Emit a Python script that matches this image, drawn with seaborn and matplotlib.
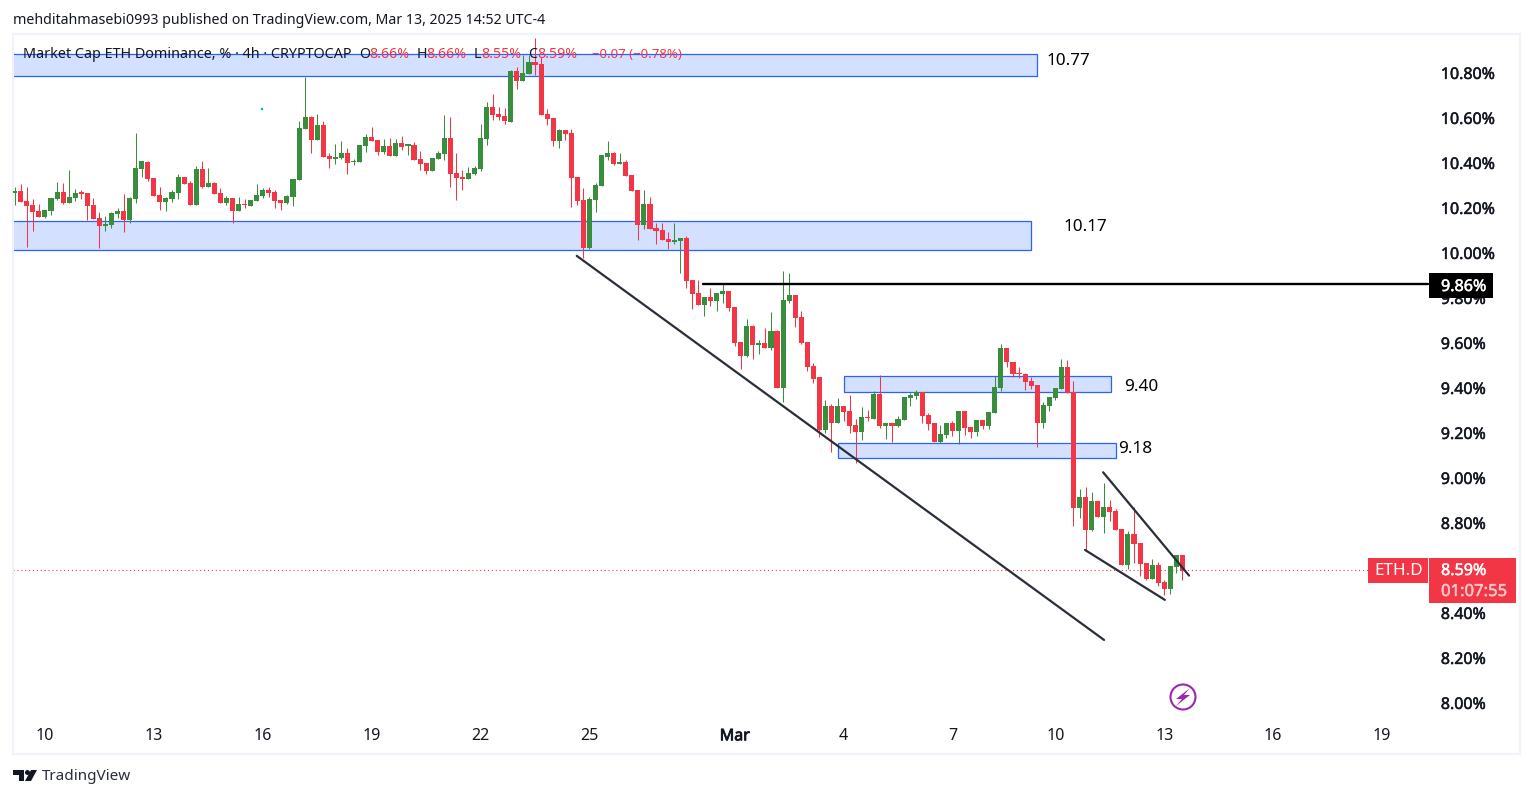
import numpy as np
import pandas as pd
import seaborn as sns
import matplotlib.pyplot as plt
import matplotlib.patheffects as pe
from matplotlib.patches import Rectangle, Circle, Polygon
from matplotlib.transforms import Affine2D

opens = [10.268,10.275,10.231,10.213,10.187,10.161,10.188,10.240,10.271,10.224,
         10.246,10.268,10.267,10.213,10.155,10.121,10.126,10.173,10.187,10.147,
         10.241,10.375,10.404,10.333,10.258,10.227,10.240,10.268,10.338,10.311,
         10.213,10.373,10.293,10.311,10.267,10.222,10.244,10.187,10.218,10.209,
         10.231,10.253,10.280,10.271,10.235,10.222,10.249,10.324,10.551,10.604,
         10.502,10.569,10.431,10.418,10.421,10.444,10.404,10.404,10.475,10.515,
         10.502,10.449,10.475,10.431,10.489,10.477,10.480,10.418,10.400,10.364,
         10.418,10.440,10.511,10.355,10.338,10.329,10.351,10.373,10.507,10.649,
         10.618,10.609,10.582,10.809,10.764,10.795,10.849,10.840,10.618,10.600,
         10.498,10.547,10.533,10.338,10.235,10.022,10.236,10.298,10.427,10.445,
         10.396,10.405,10.347,10.280,10.125,10.218,10.111,10.103,10.063,10.049,
         10.054,10.067,9.880,9.823,9.769,9.805,9.787,9.818,9.831,9.760,
         9.605,9.543,9.676,9.591,9.600,9.578,9.654,9.400,9.787,9.814,
         9.716,9.605,9.498,9.449,9.213,9.320,9.244,9.320,9.297,9.235,
         9.204,9.271,9.262,9.373,9.231,9.244,9.231,9.257,9.355,9.364,
         9.382,9.280,9.244,9.160,9.191,9.244,9.209,9.297,9.226,9.204,
         9.257,9.231,9.289,9.400,9.577,9.515,9.466,9.462,9.431,9.413,
         9.244,9.320,9.355,9.395,9.493,9.382,8.867,8.916,8.769,8.898,
         8.827,8.871,8.853,8.773,8.613,8.751,8.711,8.622,8.551,8.613,
         8.538,8.507,8.605,8.658]
highs = [10.295,10.307,10.293,10.240,10.218,10.191,10.244,10.315,10.311,10.369,
         10.284,10.280,10.267,10.244,10.182,10.164,10.182,10.200,10.262,10.249,
         10.533,10.409,10.409,10.333,10.293,10.249,10.280,10.351,10.338,10.320,
         10.387,10.409,10.378,10.315,10.289,10.253,10.244,10.249,10.240,10.235,
         10.307,10.289,10.293,10.280,10.235,10.258,10.329,10.587,10.782,10.609,
         10.618,10.587,10.444,10.484,10.498,10.467,10.418,10.480,10.529,10.560,
         10.502,10.507,10.511,10.507,10.520,10.480,10.493,10.453,10.400,10.422,
         10.453,10.613,10.604,10.444,10.369,10.382,10.387,10.573,10.671,10.707,
         10.649,10.644,10.813,10.827,10.880,10.880,10.955,10.871,10.640,10.600,
         10.551,10.547,10.551,10.338,10.289,10.249,10.311,10.436,10.498,10.449,
         10.445,10.414,10.347,10.280,10.280,10.249,10.134,10.134,10.094,10.134,
         10.067,10.076,9.880,9.880,9.805,9.845,9.823,9.863,9.831,9.760,
         9.605,9.707,9.680,9.614,9.667,9.738,9.658,9.920,9.911,9.814,
         9.743,9.605,9.511,9.449,9.346,9.329,9.355,9.320,9.369,9.262,
         9.315,9.302,9.386,9.457,9.244,9.244,9.275,9.360,9.377,9.391,
         9.382,9.289,9.244,9.235,9.244,9.253,9.297,9.297,9.226,9.257,
         9.257,9.293,9.453,9.595,9.577,9.515,9.493,9.466,9.449,9.413,
         9.337,9.360,9.400,9.529,9.524,9.431,8.951,8.960,8.938,8.898,
         8.978,8.902,8.862,8.773,8.765,8.871,8.711,8.622,8.640,8.627,
         8.547,8.609,8.658,8.658]
lows = [10.215,10.228,10.028,10.099,10.161,10.155,10.170,10.235,10.218,10.224,
        10.232,10.241,10.147,10.152,10.024,10.099,10.111,10.155,10.095,10.135,
        10.221,10.338,10.321,10.255,10.191,10.187,10.227,10.240,10.308,10.213,
        10.213,10.289,10.293,10.262,10.222,10.213,10.133,10.187,10.200,10.209,
        10.231,10.244,10.249,10.200,10.191,10.218,10.209,10.324,10.551,10.444,
        10.502,10.427,10.378,10.395,10.418,10.351,10.391,10.404,10.449,10.498,
        10.435,10.440,10.431,10.431,10.458,10.435,10.413,10.369,10.351,10.364,
        10.418,10.413,10.293,10.235,10.280,10.329,10.347,10.364,10.480,10.591,
        10.591,10.573,10.582,10.729,10.764,10.795,10.791,10.613,10.569,10.475,
        10.467,10.502,10.204,10.213,9.978,10.018,10.183,10.298,10.414,10.391,
        10.396,10.343,10.276,10.058,10.107,10.107,10.040,10.058,10.018,10.040,
        9.911,9.845,9.751,9.769,9.720,9.765,9.743,9.778,9.743,9.587,
        9.485,9.538,9.529,9.551,9.578,9.569,9.400,9.338,9.778,9.671,
        9.596,9.476,9.423,9.182,9.200,9.115,9.244,9.253,9.200,9.066,
        9.169,9.253,9.262,9.222,9.173,9.160,9.226,9.257,9.320,9.351,
        9.244,9.213,9.160,9.155,9.177,9.186,9.151,9.191,9.177,9.186,
        9.217,9.217,9.289,9.386,9.493,9.449,9.444,9.391,9.395,9.137,
        9.222,9.297,9.346,9.395,9.377,8.787,8.822,8.680,8.765,8.827,
        8.756,8.809,8.769,8.613,8.596,8.622,8.565,8.547,8.551,8.520,
        8.480,8.485,8.578,8.547]
closes = [10.277,10.228,10.210,10.184,10.161,10.191,10.244,10.271,10.224,10.249,
          10.267,10.264,10.210,10.152,10.121,10.129,10.178,10.187,10.147,10.244,
          10.378,10.409,10.330,10.255,10.227,10.244,10.271,10.338,10.308,10.213,
          10.373,10.293,10.311,10.262,10.222,10.244,10.187,10.218,10.213,10.235,
          10.258,10.280,10.267,10.231,10.222,10.253,10.329,10.555,10.604,10.502,
          10.569,10.427,10.418,10.427,10.444,10.400,10.409,10.480,10.515,10.498,
          10.449,10.475,10.431,10.489,10.471,10.480,10.413,10.395,10.364,10.422,
          10.444,10.511,10.351,10.333,10.329,10.355,10.378,10.511,10.649,10.613,
          10.604,10.587,10.809,10.764,10.800,10.849,10.835,10.613,10.595,10.498,
          10.547,10.529,10.333,10.231,10.022,10.240,10.303,10.436,10.445,10.396,
          10.405,10.343,10.276,10.125,10.218,10.107,10.098,10.058,10.049,10.058,
          10.067,9.876,9.818,9.769,9.805,9.787,9.823,9.831,9.756,9.600,
          9.543,9.676,9.591,9.600,9.578,9.654,9.400,9.791,9.814,9.711,
          9.600,9.494,9.440,9.213,9.320,9.244,9.320,9.293,9.231,9.204,
          9.271,9.268,9.373,9.231,9.244,9.231,9.262,9.360,9.369,9.382,
          9.275,9.240,9.160,9.195,9.244,9.209,9.297,9.222,9.204,9.257,
          9.231,9.293,9.404,9.577,9.515,9.462,9.462,9.426,9.409,9.244,
          9.324,9.360,9.400,9.493,9.377,8.867,8.916,8.769,8.898,8.827,
          8.871,8.849,8.769,8.613,8.751,8.707,8.618,8.551,8.613,8.533,
          8.507,8.609,8.658,8.587]

day_bars = [5, 23, 41, 59, 77, 95, 119, 137, 155, 172, 190, 208, 226]
day_labels = ['10', '13', '16', '19', '22', '25', 'Mar', '4', '7', '10', '13', '16', '19']
price_ticks = [8.0, 8.2, 8.4, 8.8, 9.0, 9.2, 9.4, 9.6, 9.8, 10.0, 10.2, 10.4, 10.6, 10.8]

# zones: bar from, bar to, price low, price high
zone_from = [-5, -5, 137, 136]
zone_to = [169, 168, 181.2, 182.1]
zone_low = [10.787, 10.013, 9.381, 9.088]
zone_high = [10.882, 10.14, 9.452, 9.154]

level_price = 9.86
last_price = 8.59

GREEN = '#388e3c'
RED = '#f23645'
BLUE = '#2962ff'
INK = '#131722'
LINE = '#2a2e39'

sns.set_theme(style='white')
plt.rcParams['font.family'] = ['Noto Sans', 'DejaVu Sans']

df = pd.DataFrame({'open': opens, 'high': highs, 'low': lows, 'close': closes})
df['bar'] = np.arange(len(df))
df['bottom'] = df[['open', 'close']].min(axis=1)
df['body'] = (df['close'] - df['open']).abs().clip(lower=0.005)
up = df[df['close'] >= df['open']]
down = df[df['close'] < df['open']]

W, H = 1533, 798
fig = plt.figure(figsize=(W / 100, H / 100), dpi=100)
ax = fig.add_axes([13 / W, 1 - 754 / H, (1520 - 13) / W, (754 - 34) / H])

# everything that isn't data gets placed in pixels of the picture
px = Affine2D().scale(1, -1).translate(0, H)
heavy = [pe.withStroke(linewidth=0.35, foreground=INK)]
heavy_white = [pe.withStroke(linewidth=0.35, foreground='white')]

for a, b, lo, hi in zip(zone_from, zone_to, zone_low, zone_high):
    ax.add_patch(Rectangle((a, lo), b - a, hi - lo, fc='#d4e0ff', ec=BLUE, lw=0.9, zorder=1))

ax.vlines(up['bar'], up['low'], up['high'], color=GREEN, lw=0.75, zorder=2)
ax.vlines(down['bar'], down['low'], down['high'], color=RED, lw=0.75, zorder=2)
sns.barplot(x=up['bar'], y=up['body'], bottom=up['bottom'], native_scale=True, color=GREEN,
            saturation=1, errorbar=None, width=0.84, ax=ax, zorder=3, linewidth=0)
sns.barplot(x=down['bar'], y=down['body'], bottom=down['bottom'], native_scale=True, color=RED,
            saturation=1, errorbar=None, width=0.84, ax=ax, zorder=3, linewidth=0)

ax.set_xlim(-0.28, 248.8)
ax.set_ylim(7.773, 10.973)
ax.set_xlabel('')
ax.set_ylabel('')

ax.plot([92.9, 180.05], [9.987, 8.28], color=LINE, lw=1.6, zorder=4)
ax.plot([179.9, 194.1], [9.025, 8.566], color=LINE, lw=1.6, zorder=4)
ax.plot([176.9, 190.1], [8.68, 8.458], color=LINE, lw=1.6, zorder=4)
ax.plot([113.8, 233.6], [level_price, level_price], color='black', lw=1.7, zorder=4)
ax.plot([-0.28, 225.0], [last_price, last_price], color=RED, lw=0.8, ls=(0, (1, 2.5)), zorder=1.5)

ax.set_xticks(day_bars, day_labels)
ax.set_yticks(price_ticks, [f'{v:.2f}%' for v in price_ticks])
ax.yaxis.tick_right()
ax.tick_params(axis='y', length=0, pad=-57, labelsize=11.5, labelcolor=INK)
ax.tick_params(axis='x', length=0, pad=-18.5, labelsize=11.5, labelcolor=INK)
for t in ax.get_yticklabels():
    t.set_path_effects(heavy)
ax.get_xticklabels()[6].set_path_effects([pe.withStroke(linewidth=0.6, foreground=INK)])
for s in ax.spines.values():
    s.set_color('#f0f3fa')
    s.set_linewidth(1.5)

ax.text(1046, 61, '10.77', transform=px, fontsize=12.3, color='black', va='center', zorder=6)
ax.text(1063, 227, '10.17', transform=px, fontsize=12.3, color='black', va='center', zorder=6)
ax.text(1124, 387, '9.40', transform=px, fontsize=12.3, color='black', va='center', zorder=6)
ax.text(1118, 449, '9.18', transform=px, fontsize=12.3, color='black', va='center', zorder=6)

# price labels on the scale
ax.add_patch(Rectangle((1429, 273), 64, 25, transform=px, fc='black', ec='none', zorder=7, clip_on=False))
ax.text(1441, 287, '9.86%', transform=px, fontsize=11.6, color='white', va='center', zorder=8,
        path_effects=heavy_white)
ax.add_patch(Rectangle((1368, 558), 60, 25, transform=px, fc=RED, ec='none', zorder=7, clip_on=False))
ax.text(1374, 571, 'ETH.D', transform=px, fontsize=12.3, color='white', va='center', zorder=8)
ax.add_patch(Rectangle((1429, 558), 87, 45, transform=px, fc=RED, ec='none', zorder=7, clip_on=False))
ax.text(1441, 571, '8.59%', transform=px, fontsize=11.6, color='white', va='center', zorder=8,
        path_effects=heavy_white)
ax.text(1441, 592, '01:07:55', transform=px, fontsize=12, color='#fcc8cd', va='center', zorder=8,
        path_effects=[pe.withStroke(linewidth=0.35, foreground='#fcc8cd')])

# legend row
ax.text(23, 55, 'Market Cap ETH Dominance, % · 4h · CRYPTOCAP', transform=px, fontsize=10.35,
        color=INK, va='center', zorder=6)
for x, t, c in [(359, 'O', INK), (369, '8.66%', RED), (417, 'H', INK), (426, '8.66%', RED),
                (474, 'L', INK), (481, '8.55%', RED), (528, 'C', INK), (537, '8.59%', RED)]:
    ax.text(x, 55, t, transform=px, fontsize=10.2, color=c, va='center', zorder=6)
ax.text(592, 55, '−0.07 (−0.78%)', transform=px, fontsize=9.5, color=RED, va='center', zorder=6)

ax.add_patch(Circle((262, 109), 1.3, transform=px, fc='#00bcd4', ec='none', zorder=6))

# bolt badge
ax.add_patch(Circle((1183, 697), 12.5, transform=px, fc='white', ec='#9c27b0', lw=1.5, zorder=6))
ax.add_patch(Polygon([(1190, 688), (1176, 699), (1182, 699), (1176, 706), (1190, 695), (1184, 695)],
                     transform=px, fc='#9c27b0', ec='none', zorder=7))

fig.text(13 / W, 1 - 20 / H, 'mehditahmasebi0993 published on TradingView.com, Mar 13, 2025 14:52 UTC-4',
         fontsize=10.2, color=INK, va='center')

# TradingView mark
ax.add_patch(Polygon([(13, 770), (24, 770), (24, 781), (19, 781), (19, 775), (13, 775)], transform=px,
                     fc=INK, ec='none', clip_on=False))
ax.add_patch(Circle((27.5, 772.5), 2.5, transform=px, fc=INK, ec='none', clip_on=False))
ax.add_patch(Polygon([(31, 770), (37, 770), (31, 781), (25, 781)], transform=px, fc=INK, ec='none', clip_on=False))
fig.text(42 / W, 1 - 777 / H, 'TradingView', fontsize=11, color='#2a2e39', va='center')

fig.savefig('out.png', dpi=100)
